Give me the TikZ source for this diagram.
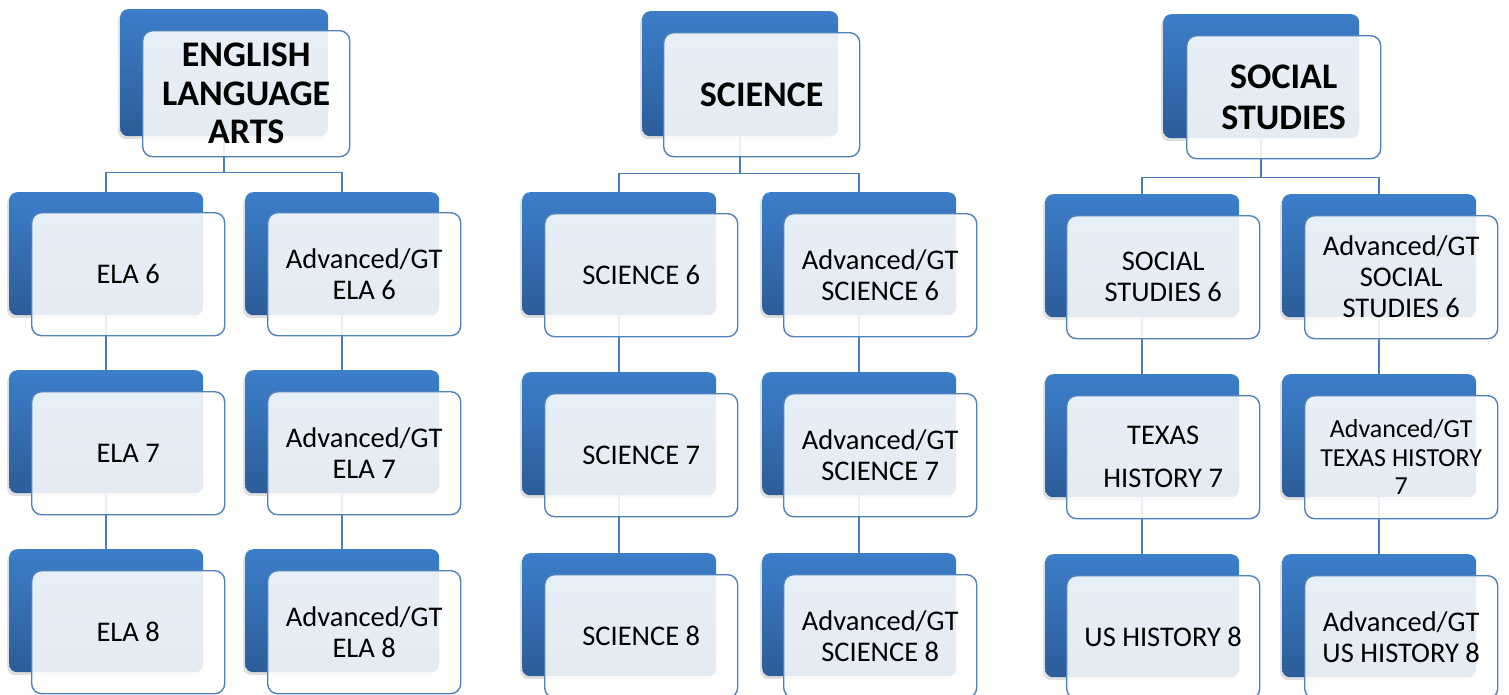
\documentclass[tikz,border=0pt]{standalone}
\usepackage{fontspec}
\setmainfont{Carlito}
\usetikzlibrary{shadows,calc}
\pgfdeclarelayer{bg}
\pgfsetlayers{bg,main}
\definecolor{btop}{RGB}{60,126,201}
\definecolor{bmid}{RGB}{55,115,188}
\definecolor{bbot}{RGB}{44,92,153}
\definecolor{fline}{RGB}{79,129,189}
\definecolor{cline}{RGB}{74,126,187}
\tikzset{
  backbox/.style={anchor=north west, minimum width=194pt, minimum height=123pt, inner sep=0pt,
    rounded corners=8pt, top color=btop, middle color=bmid, bottom color=bbot, draw=none,
    drop shadow={shadow xshift=-2pt, shadow yshift=-3pt, opacity=0.25}},
  frontbox/.style={anchor=north west, minimum width=193pt, minimum height=123pt, inner sep=2pt,
    rounded corners=10pt, draw=fline, line width=1.4pt, fill=white, fill opacity=0.88,
    text opacity=1, align=center, font=\fontsize{28.5}{31}\selectfont},
  headfont/.style={font=\fontsize{36}{38.5}\selectfont\bfseries},
  conn/.style={draw=cline, line width=1.6pt}
}
\begin{document}
\begin{tikzpicture}[x=1pt,y=-1pt]
\useasboundingbox (0,0) rectangle (1509,694);
% ---------- ENGLISH LANGUAGE ARTS ----------
\node[backbox, minimum width=208pt, minimum height=127pt] (hEB) at (120,9) {};
\node[frontbox, headfont, minimum width=207pt, minimum height=126pt] (hEF) at (142,30) {ENGLISH\\LANGUAGE\\ARTS};
\node[backbox] (e6B) at (9,192) {};
\node[frontbox] (e6F) at (31,212) {ELA 6};
\node[backbox] (e7B) at (9,370) {};
\node[frontbox] (e7F) at (31,391) {ELA 7};
\node[backbox] (e8B) at (9,549) {};
\node[frontbox] (e8F) at (31,570) {ELA 8};
\node[backbox] (ae6B) at (245,192) {};
\node[frontbox] (ae6F) at (267,212) {Advanced/GT\\ELA 6};
\node[backbox] (ae7B) at (245,370) {};
\node[frontbox] (ae7F) at (267,391) {Advanced/GT\\ELA 7};
\node[backbox] (ae8B) at (245,549) {};
\node[frontbox] (ae8F) at (267,570) {Advanced/GT\\ELA 8};
% ---------- SCIENCE ----------
\node[backbox, minimum width=196pt, minimum height=125pt] (hSB) at (642,11) {};
\node[frontbox, headfont, minimum width=196pt, minimum height=124pt] (hSF) at (663,32) {SCIENCE};
\node[backbox] (s6B) at (522,192) {};
\node[frontbox] (s6F) at (544,213) {SCIENCE 6};
\node[backbox] (s7B) at (522,372) {};
\node[frontbox] (s7F) at (544,393) {SCIENCE 7};
\node[backbox] (s8B) at (522,553) {};
\node[frontbox] (s8F) at (544,574) {SCIENCE 8};
\node[backbox] (as6B) at (762,192) {};
\node[frontbox] (as6F) at (783,213) {Advanced/GT\\SCIENCE 6};
\node[backbox] (as7B) at (762,372) {};
\node[frontbox] (as7F) at (783,393) {Advanced/GT\\SCIENCE 7};
\node[backbox] (as8B) at (762,553) {};
\node[frontbox] (as8F) at (783,574) {Advanced/GT\\SCIENCE 8};
% ---------- SOCIAL STUDIES ----------
\node[backbox, minimum width=196pt, minimum height=124pt] (hTB) at (1163,14) {};
\node[frontbox, font=\fontsize{36}{41}\selectfont\bfseries, minimum width=194pt, minimum height=123pt] (hTF) at (1186,35) {SOCIAL\\STUDIES};
\node[backbox] (t6B) at (1045,194) {};
\node[frontbox] (t6F) at (1066,215) {SOCIAL\\STUDIES 6};
\node[backbox] (t7B) at (1045,374) {};
\node[frontbox, font=\fontsize{28.5}{43}\selectfont] (t7F) at (1066,395) {TEXAS\\HISTORY 7};
\node[backbox] (t8B) at (1045,554) {};
\node[frontbox] (t8F) at (1066,575) {US HISTORY 8};
\node[backbox] (at6B) at (1282,194) {};
\node[frontbox] (at6F) at (1304,215) {Advanced/GT\\SOCIAL\\STUDIES 6};
\node[backbox] (at7B) at (1282,374) {};
\node[frontbox, font=\fontsize{26}{28.5}\selectfont] (at7F) at (1304,395) {Advanced/GT\\TEXAS HISTORY\\7};
\node[backbox] (at8B) at (1282,554) {};
\node[frontbox] (at8F) at (1304,575) {Advanced/GT\\US HISTORY 8};
% ---------- connectors ----------
\begin{pgfonlayer}{bg}
  \coordinate (eBus) at ($(hEB.south)+(0,36)$);
  \coordinate (sBus) at ($(hSB.south)+(0,37)$);
  \coordinate (tBus) at ($(hTB.south)+(0,39)$);
  \draw[conn] (hEB.south) -- (eBus);
  \draw[conn] (eBus) -| (e6B.north);
  \draw[conn] (eBus) -| (ae6B.north);
  \draw[conn] (e6B.south) -- (e7B.north);
  \draw[conn] (e7B.south) -- (e8B.north);
  \draw[conn] (ae6B.south) -- (ae7B.north);
  \draw[conn] (ae7B.south) -- (ae8B.north);
  \draw[conn] (hSB.south) -- (sBus);
  \draw[conn] (sBus) -| (s6B.north);
  \draw[conn] (sBus) -| (as6B.north);
  \draw[conn] (s6B.south) -- (s7B.north);
  \draw[conn] (s7B.south) -- (s8B.north);
  \draw[conn] (as6B.south) -- (as7B.north);
  \draw[conn] (as7B.south) -- (as8B.north);
  \draw[conn] (hTB.south) -- (tBus);
  \draw[conn] (tBus) -| (t6B.north);
  \draw[conn] (tBus) -| (at6B.north);
  \draw[conn] (t6B.south) -- (t7B.north);
  \draw[conn] (t7B.south) -- (t8B.north);
  \draw[conn] (at6B.south) -- (at7B.north);
  \draw[conn] (at7B.south) -- (at8B.north);
\end{pgfonlayer}
\end{tikzpicture}
\end{document}
